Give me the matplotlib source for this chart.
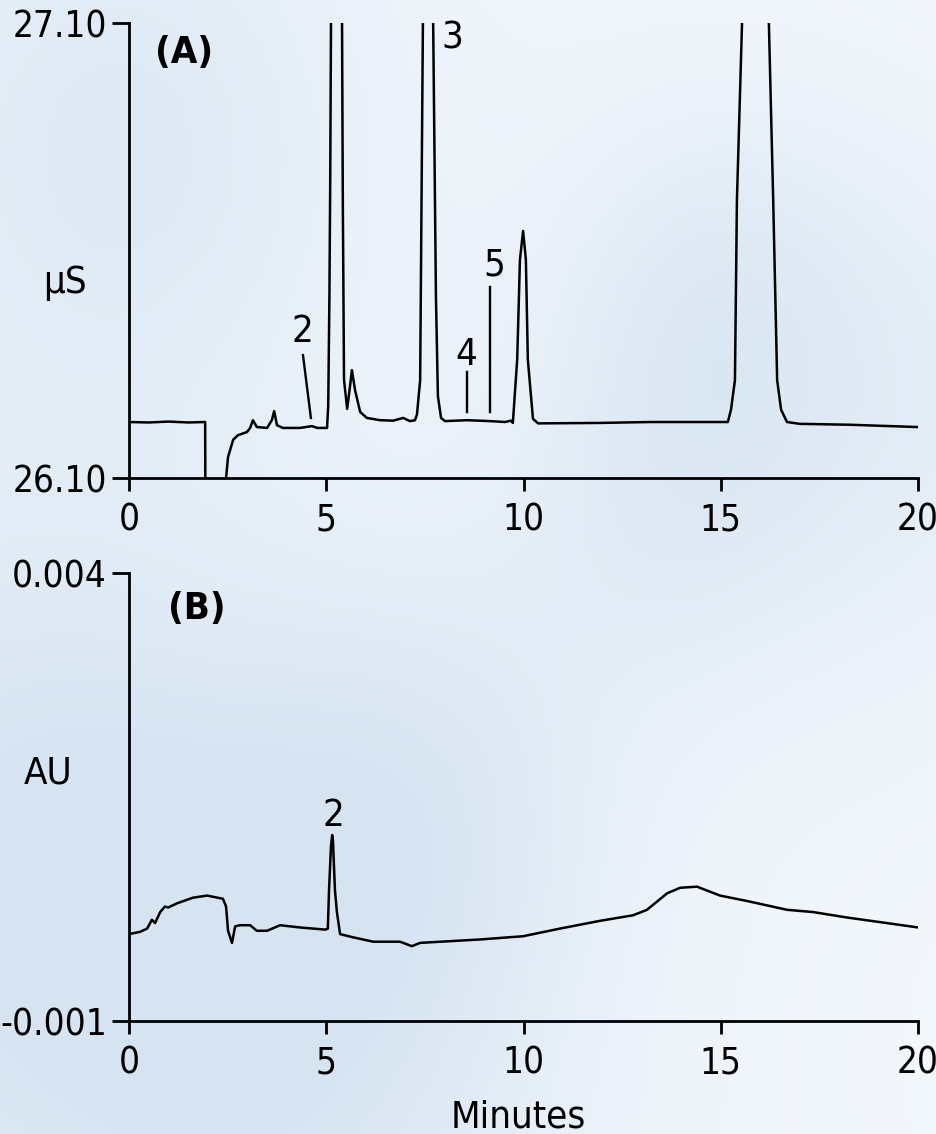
import numpy as np
import matplotlib
matplotlib.use("Agg")
import matplotlib.pyplot as plt
from matplotlib import font_manager

# ---------------- data ----------------
# Panel A: conductivity trace (minutes, uS); off-scale peak tops are estimates
A_time = [0.00, 0.50, 1.00, 1.50, 1.93, 1.94, 2.45, 2.46, 2.51, 2.64, 2.76, 2.99, 3.07,
          3.14, 3.24, 3.50, 3.62, 3.68, 3.75, 3.90, 4.33, 4.64, 4.77, 5.02, 5.05,
          5.08, 5.10, 5.12, 5.26, 5.40, 5.42, 5.45, 5.53, 5.60, 5.65, 5.73, 5.86,
          6.03, 6.36, 6.70, 6.95, 7.12, 7.25, 7.30, 7.38, 7.45, 7.58, 7.71, 7.78,
          7.83, 7.91, 8.01, 8.57, 9.15, 9.53, 9.68, 9.73, 9.84, 9.91, 9.99, 10.06,
          10.11, 10.24, 10.37, 11.94, 13.20, 14.47, 15.18, 15.26, 15.36, 15.41,
          15.54, 15.85, 16.22, 16.33, 16.43, 16.53, 16.68, 17.00, 18.28, 19.97]
A_signal = [26.223, 26.222, 26.224, 26.222, 26.223, 25.90, 25.90, 26.10, 26.146, 26.184,
            26.194, 26.201, 26.210, 26.227, 26.212, 26.210, 26.227, 26.247, 26.216,
            26.210, 26.210, 26.214, 26.210, 26.210, 26.260, 26.500, 26.750, 27.100,
            30.500, 27.100, 26.700, 26.315, 26.252, 26.300, 26.337, 26.293, 26.245,
            26.232, 26.227, 26.226, 26.232, 26.225, 26.227, 26.240, 26.315, 27.100,
            29.500, 27.100, 26.500, 26.280, 26.232, 26.225, 26.227, 26.225, 26.223,
            26.226, 26.221, 26.360, 26.580, 26.643, 26.580, 26.360, 26.230, 26.220,
            26.221, 26.223, 26.223, 26.223, 26.250, 26.315, 26.710, 27.100, 30.000,
            27.100, 26.710, 26.315, 26.250, 26.223, 26.219, 26.217, 26.212]

# Panel B: UV absorbance trace (minutes, AU)
B_time = [0.00, 0.28, 0.46, 0.58, 0.66, 0.79, 0.91, 0.99, 1.22, 1.62, 1.98, 2.38, 2.46,
          2.51, 2.61, 2.69, 2.81, 3.07, 3.24, 3.50, 3.83, 4.33, 4.97, 5.04, 5.07,
          5.12, 5.15, 5.17, 5.22, 5.27, 5.35, 5.68, 6.19, 6.87, 7.17, 7.38, 8.90,
          9.99, 10.93, 11.94, 12.78, 13.13, 13.64, 13.97, 14.40, 14.98, 15.67,
          16.68, 17.34, 18.20, 19.21, 20.00]
B_signal = [-0.000030, -0.000005, 0.000032, 0.000130, 0.000093, 0.000216, 0.000278,
            0.000266, 0.000314, 0.000376, 0.000400, 0.000364, 0.000278, 0.000007,
            -0.000128, 0.000056, 0.000069, 0.000069, 0.000007, 0.000007, 0.000069,
            0.000044, 0.000020, 0.000030, 0.000460, 0.000950, 0.001076, 0.001010,
            0.000460, 0.000216, -0.000030, -0.000066, -0.000115, -0.000115,
            -0.000165, -0.000128, -0.000090, -0.000054, 0.000032, 0.000118,
            0.000180, 0.000241, 0.000425, 0.000487, 0.000499, 0.000400, 0.000339,
            0.000241, 0.000216, 0.000155, 0.000093, 0.000044]

x_ticks = [0, 5, 10, 15, 20]
A_ylim = [26.10, 27.10]
A_yticklabels = ["26.10", "27.10"]
B_ylim = [-0.001, 0.004]
B_yticklabels = ["-0.001", "0.004"]

# Peak labels: text, text position, pointer line (x0, y0, x1, y1) or None
A_peak_labels = ["2", "3", "4", "5"]
A_label_pos = [(4.39, 26.42), (8.19, 27.065), (8.54, 26.37), (9.25, 26.568)]
A_label_lines = [(4.41, 26.37, 4.61, 26.232), None, (8.57, 26.333, 8.57, 26.245),
                 (9.15, 26.52, 9.15, 26.245)]
B_peak_labels = ["2"]
B_label_pos = [(5.17, 0.00129)]

# ---------------- styling ----------------
FONT = ["DejaVu Sans"]
plt.rcParams["font.family"] = FONT
plt.rcParams["font.stretch"] = "condensed"
FS = 27.5
FST = 26.5
FP = font_manager.FontProperties(family="DejaVu Sans", stretch="condensed", size=FS)
FPT = font_manager.FontProperties(family="DejaVu Sans", stretch="condensed", size=FST)
FPB = font_manager.FontProperties(family="DejaVu Sans", stretch="condensed", size=FS,
                                  weight="bold")

fig = plt.figure(figsize=(9.37, 11.34), dpi=100)

# soft light-blue background (decorative)
bg = fig.add_axes([0, 0, 1, 1], zorder=-10)
bg.set_axis_off()
H, W = 300, 250
yy, xx = np.mgrid[0:H, 0:W]
u = xx / W
v = yy / H
shade = 0.30 * (1 - u) + 0.10 * v
blobs = [(0.15, 0.12, 0.18, 0.45), (0.95, 0.35, 0.2, 0.5), (0.75, 0.25, 0.12, 0.35),
         (0.05, 0.75, 0.2, 0.6), (0.45, 0.7, 0.15, 0.45), (0.3, 0.95, 0.2, 0.5),
         (0.7, 0.45, 0.12, 0.3)]
for bx, by, bs, amp in blobs:
    shade += amp * np.exp(-((u - bx) ** 2 + (v - by) ** 2) / (2 * bs ** 2))
shade = np.clip(shade, 0, 1) * 0.6
light = np.array([0.965, 0.978, 0.992])
dark = np.array([0.76, 0.84, 0.92])
img = light[None, None, :] * (1 - shade[..., None]) + dark[None, None, :] * shade[..., None]
bg.imshow(img, extent=[0, 1, 0, 1], aspect="auto", origin="upper")
bg.set_xlim(0, 1)
bg.set_ylim(0, 1)


def style_axes(ax, ylim, yticklabels):
    ax.set_facecolor("none")
    for s in ["top", "right"]:
        ax.spines[s].set_visible(False)
    for s in ["left", "bottom"]:
        ax.spines[s].set_linewidth(2.0)
        ax.spines[s].set_color("black")
    ax.set_xlim(0, 20)
    ax.set_ylim(*ylim)
    ax.set_xticks(x_ticks)
    ax.set_xticklabels([str(t) for t in x_ticks])
    ax.set_yticks(ylim)
    ax.set_yticklabels(yticklabels)
    ax.tick_params(axis="x", direction="out", length=9, width=2.0, pad=8)
    ax.tick_params(axis="y", direction="out", length=12, width=2.0, pad=4)
    for lab in ax.get_xticklabels() + ax.get_yticklabels():
        lab.set_fontproperties(FPT)


# ---------------- panel A ----------------
axA = fig.add_axes([0.1377, 0.5785, 0.9797 - 0.1377, 0.9797 - 0.5785])
style_axes(axA, A_ylim, A_yticklabels)
axA.plot(A_time, A_signal, color="black", lw=1.8, solid_joinstyle="round")
for lab, (tx, ty), ln in zip(A_peak_labels, A_label_pos, A_label_lines):
    axA.text(tx, ty, lab, ha="center", va="center", fontproperties=FP)
    if ln is not None:
        axA.plot([ln[0], ln[2]], [ln[1], ln[3]], color="black", lw=1.7)
axA.text(0.07, 0.935, "(A)", transform=axA.transAxes, ha="center", va="center",
         fontproperties=FPB)
fig.text(65 / 937, 1 - 283 / 1134, "μS", ha="center", va="center", fontproperties=FP)

# ---------------- panel B ----------------
axB = fig.add_axes([0.1377, 1 - 1021 / 1134, 0.9797 - 0.1377, (1021 - 573) / 1134])
style_axes(axB, B_ylim, B_yticklabels)
axB.plot(B_time, B_signal, color="black", lw=1.8, solid_joinstyle="round")
for lab, (tx, ty) in zip(B_peak_labels, B_label_pos):
    axB.text(tx, ty, lab, ha="center", va="center", fontproperties=FP)
axB.text(0.086, 0.92, "(B)", transform=axB.transAxes, ha="center", va="center",
         fontproperties=FPB)
fig.text(48 / 937, 1 - 773 / 1134, "AU", ha="center", va="center", fontproperties=FP)
fig.text(518 / 937, 1 - 1118 / 1134, "Minutes", ha="center", va="center", fontproperties=FP)

fig.savefig("out.png", dpi=100)
